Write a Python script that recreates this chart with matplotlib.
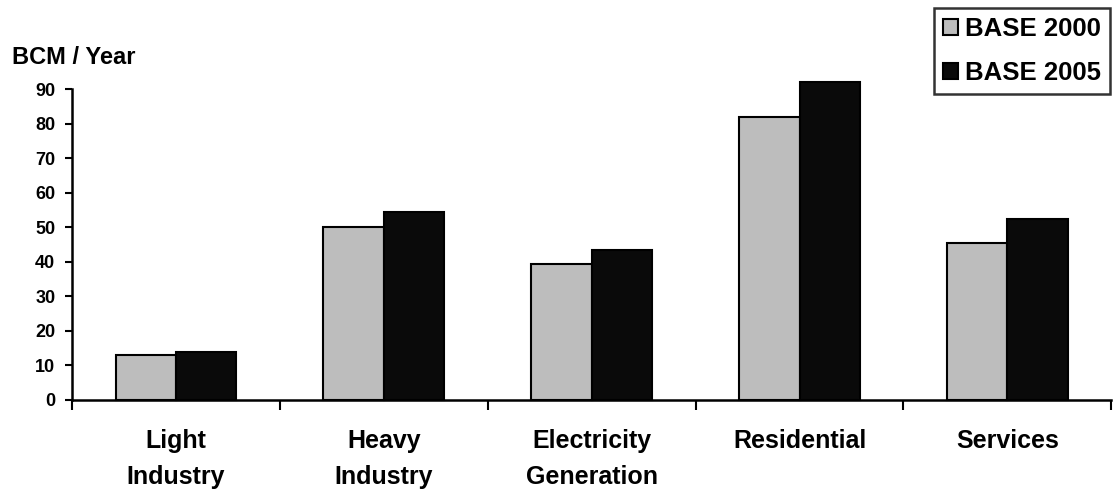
import matplotlib
matplotlib.use("Agg")
import matplotlib.pyplot as plt
import numpy as np

categories = ["Light\nIndustry", "Heavy\nIndustry", "Electricity\nGeneration", "Residential", "Services"]
base_2000 = [13, 50, 39.5, 82, 45.5]
base_2005 = [14, 54.5, 43.5, 92, 52.5]
series_names = ["BASE 2000", "BASE 2005"]
yticks = [0, 10, 20, 30, 40, 50, 60, 70, 80, 90]

plt.rcParams['font.family'] = ['Liberation Sans', 'DejaVu Sans']
plt.rcParams['font.weight'] = 'bold'

fig = plt.figure(figsize=(11.14, 4.92), dpi=100)
ax = fig.add_axes([0.0646, 0.187, 0.933, 0.667])

x = np.arange(len(categories))
w = 0.29
ax.bar(x - w / 2, base_2000, width=w, color="#bdbdbd", edgecolor="black", linewidth=1.5,
       label=series_names[0], zorder=3, clip_on=False)
ax.bar(x + w / 2, base_2005, width=w, color="#0a0a0a", edgecolor="black", linewidth=1.5,
       label=series_names[1], zorder=3, clip_on=False)

ax.set_xlim(-0.5, len(categories) - 0.5)
ax.set_ylim(0, 95)
ax.spines['top'].set_visible(False)
ax.spines['right'].set_visible(False)
ax.spines['left'].set_bounds(0, 90)
for s in ('left', 'bottom'):
    ax.spines[s].set_linewidth(1.8)

ax.set_yticks(yticks)
ax.set_yticklabels([str(v) for v in yticks], fontsize=13, fontweight='bold')
ax.tick_params(axis='y', direction='out', length=5, width=1.5, pad=7)

ax.set_xticks(np.arange(-0.5, len(categories), 1.0), minor=False)
ax.set_xticklabels([])
ax.tick_params(axis='x', which='major', direction='out', length=7, width=1.5)
ax.set_xticks(x, minor=True)
ax.set_xticklabels(categories, minor=True, fontsize=18, fontweight='bold', linespacing=1.6)
ax.tick_params(axis='x', which='minor', length=0, pad=21)

fig.text(0.011, 0.884, "BCM / Year", fontsize=17, fontweight='bold', va='center', ha='left')

leg = ax.legend(loc='upper left', bbox_to_anchor=(934 / 1114, 1 - 8 / 492), bbox_transform=fig.transFigure,
                frameon=True, fancybox=False, prop={'weight': 'bold', 'size': 18.5},
                handlelength=0.6, handleheight=0.6, handletextpad=0.25, borderpad=0.35,
                labelspacing=0.78, borderaxespad=0)
leg.get_frame().set_edgecolor('black')
leg.get_frame().set_linewidth(1.8)

fig.savefig("out.png", dpi=100, facecolor='white')
